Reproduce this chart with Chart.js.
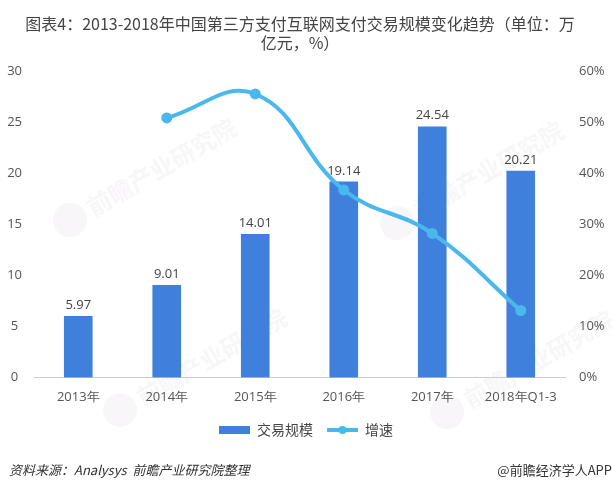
<!DOCTYPE html>
<html>
<head>
<meta charset="utf-8">
<script src="https://cdn.jsdelivr.net/npm/chart.js@4"></script>
<style>
  html, body { margin: 0; padding: 0; background: #fff; }
  #wrap { position: relative; width: 612px; height: 488px; overflow: hidden; font-family: "Noto Sans CJK SC", sans-serif; }
  #title { position: absolute; left: 0; top: 14px; width: 600px; font-size: 16px; line-height: 19px; color: #444; text-align: center; }
  #source { position: absolute; left: 9px; top: 460px; font-size: 13px; font-style: italic; color: #333; }
  #brand { position: absolute; right: 0; top: 460px; font-size: 13px; color: #333; }
  canvas { position: absolute; left: 0; top: 0; }
</style>
</head>
<body>
<div id="wrap">
  <canvas id="c" width="612" height="488"></canvas>
  <div id="title">图表4：2013-2018年中国第三方支付互联网支付交易规模变化趋势（单位：万<br>亿元，%）</div>
  <div id="source">资料来源：Analysys&nbsp;&nbsp;前瞻产业研究院整理</div>
  <div id="brand">@前瞻经济学人APP</div>
</div>
<script>
const categories = ["2013年", "2014年", "2015年", "2016年", "2017年", "2018年Q1-3"];
const volume = [5.97, 9.01, 14.01, 19.14, 24.54, 20.21];
const growth = [null, 50.8, 55.5, 36.7, 28.2, 13.1];
const leftTicks = [0, 5, 10, 15, 20, 25, 30];

const barColor = "#3f80dc";
const lineColor = "#4ab8ec";
const cjk = '"Noto Sans CJK SC"';
const latin = '"Open Sans"';

// legend swatches, the line one has the dot in the middle
function swatch(isLine) {
  const cv = document.createElement("canvas");
  cv.width = 31;
  cv.height = 12;
  const g = cv.getContext("2d");
  if (isLine) {
    g.fillStyle = lineColor;
    g.fillRect(0, 4, 31, 4);
    g.beginPath();
    g.arc(15.5, 6, 4, 0, Math.PI * 2);
    g.fill();
  } else {
    g.fillStyle = barColor;
    g.fillRect(0, 2, 31, 8);
  }
  return cv;
}

// faint diagonal company stamps behind the chart
const stamps = {
  id: "stamps",
  beforeDraw(chart) {
    const ctx = chart.ctx;
    const spots = [[70, 220], [397, 223], [120, 410], [447, 412]];
    ctx.save();
    spots.forEach(([x, y]) => {
      ctx.save();
      ctx.translate(x, y);
      ctx.rotate(-Math.PI / 6);
      ctx.fillStyle = "#f8f6f8";
      ctx.beginPath();
      ctx.arc(0, 0, 17, 0, Math.PI * 2);
      ctx.fill();
      ctx.font = "bold 24px " + cjk;
      ctx.textBaseline = "middle";
      ctx.fillText("前瞻产业研究院", 22, 0);
      ctx.restore();
    });
    ctx.restore();
  }
};

// bar values sit above the bars
const barLabels = {
  id: "barLabels",
  afterDatasetsDraw(chart) {
    const ctx = chart.ctx;
    const meta = chart.getDatasetMeta(1);
    ctx.save();
    ctx.font = "13px " + latin;
    ctx.fillStyle = "#444";
    ctx.textAlign = "center";
    meta.data.forEach((bar, i) => {
      ctx.fillText(volume[i].toFixed(2), bar.x, bar.y - 11);
    });
    ctx.restore();
  }
};

new Chart(document.getElementById("c"), {
  data: {
    labels: categories,
    datasets: [
      {
        type: "line",
        label: "增速",
        data: growth,
        yAxisID: "y1",
        borderColor: lineColor,
        backgroundColor: lineColor,
        borderWidth: 4,
        tension: 0.42,
        pointRadius: 3.5,
        order: 0
      },
      {
        type: "bar",
        label: "交易规模",
        data: volume,
        yAxisID: "y",
        backgroundColor: barColor,
        barThickness: 28,
        order: 1
      }
    ]
  },
  options: {
    responsive: false,
    animation: false,
    layout: { padding: { top: 71, left: 0, right: 0, bottom: 41 } },
    plugins: {
      legend: {
        position: "bottom",
        labels: {
          font: { size: 14, family: cjk },
          color: "#444",
          usePointStyle: true,
          pointStyleWidth: 31,
          padding: 14,
          generateLabels: () => [
            { text: "交易规模", pointStyle: swatch(false), fontColor: "#444", datasetIndex: 1, lineWidth: 0 },
            { text: "增速", pointStyle: swatch(true), fontColor: "#444", datasetIndex: 0, lineWidth: 0 }
          ]
        }
      }
    },
    scales: {
      x: {
        grid: { display: false },
        border: { color: "#ccc" },
        ticks: { color: "#555", padding: 4, font: { size: 13, family: latin } }
      },
      y: {
        min: 0,
        max: 30,
        afterBuildTicks(axis) { axis.ticks = leftTicks.map(v => ({ value: v })); },
        afterFit(axis) { axis.width = 34; },
        grid: { display: false },
        border: { display: false },
        ticks: { color: "#555", padding: 4, crossAlign: "center", font: { size: 13, family: latin } }
      },
      y1: {
        position: "right",
        min: 0,
        max: 60,
        afterFit(axis) { axis.width = 47; },
        grid: { display: false },
        border: { display: false },
        ticks: {
          stepSize: 10,
          color: "#555",
          padding: 6,
          font: { size: 13, family: latin },
          callback: v => v + "%"
        }
      }
    }
  },
  plugins: [stamps, barLabels]
});
</script>
</body>
</html>
